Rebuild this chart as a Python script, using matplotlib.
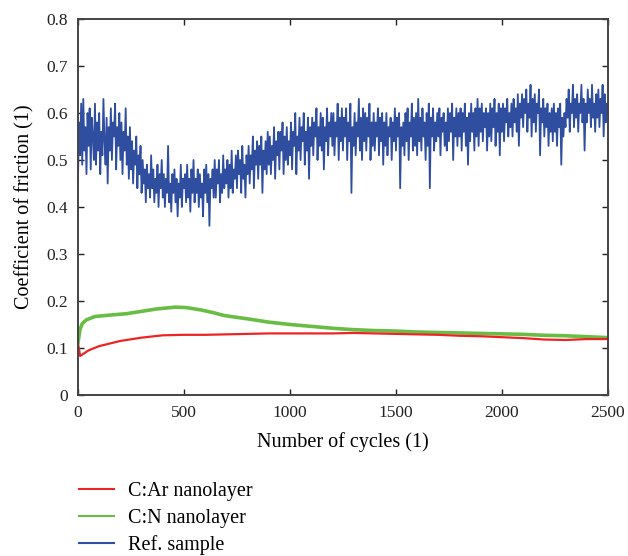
import matplotlib.pyplot as plt
import numpy as np

# =============================================================================
# DATA
# =============================================================================

# Ref. sample, one reading every 5 cycles (0 ... 2500), 10 readings per row
ref_step = 5
ref_sample = [
    .46, .58, .51, .62, .49, .63, .52, .57, .47, .60,   # 0
    .53, .61, .48, .59, .55, .50, .62, .49, .58, .52,
    .60, .47, .56, .51, .63, .54, .49, .59, .45, .57,   # 100
    .52, .61, .50, .58, .55, .62, .48, .57, .53, .60,
    .50, .58, .47, .56, .52, .61, .49, .55, .46, .57,   # 200
    .48, .54, .45, .52, .49, .55, .44, .51, .47, .53,
    .43, .50, .45, .48, .41, .49, .44, .47, .42, .51,   # 300
    .44, .48, .41, .46, .43, .49, .40, .47, .44, .50,
    .42, .47, .40, .46, .43, .53, .41, .45, .39, .47,   # 400
    .43, .48, .41, .46, .38, .45, .42, .49, .40, .46,
    .44, .47, .41, .49, .42, .46, .39, .48, .43, .50,   # 500
    .41, .46, .43, .48, .40, .47, .42, .45, .38, .48,
    .43, .49, .41, .47, .36, .46, .44, .48, .42, .50,   # 600
    .42, .48, .45, .50, .41, .47, .43, .51, .44, .48,
    .45, .50, .42, .49, .44, .52, .43, .48, .46, .51,   # 700
    .44, .52, .47, .50, .43, .53, .46, .49, .42, .51,
    .47, .53, .45, .51, .48, .55, .44, .52, .49, .54,   # 800
    .46, .53, .49, .55, .43, .52, .48, .54, .47, .56,
    .49, .55, .47, .53, .50, .57, .46, .54, .51, .56,   # 900
    .48, .56, .52, .58, .47, .55, .50, .57, .49, .54,
    .51, .58, .48, .56, .53, .60, .47, .55, .52, .59,   # 1000
    .50, .57, .54, .60, .49, .56, .52, .59, .46, .57,
    .53, .59, .51, .58, .55, .61, .50, .57, .53, .60,   # 1100
    .52, .59, .48, .57, .54, .61, .51, .58, .55, .60,
    .53, .60, .51, .58, .55, .62, .50, .59, .54, .61,   # 1200
    .52, .59, .55, .61, .50, .58, .54, .62, .43, .57,
    .53, .60, .51, .58, .55, .63, .52, .59, .50, .61,   # 1300
    .54, .60, .52, .59, .55, .62, .50, .58, .53, .60,
    .52, .58, .55, .61, .51, .59, .54, .60, .49, .58,   # 1400
    .53, .60, .51, .57, .55, .59, .50, .58, .54, .61,
    .52, .59, .55, .60, .44, .57, .53, .58, .51, .60,   # 1500
    .54, .61, .50, .58, .55, .62, .52, .59, .53, .60,
    .51, .63, .54, .59, .52, .61, .55, .58, .50, .60,   # 1600
    .53, .62, .44, .59, .55, .61, .52, .58, .54, .60,
    .55, .61, .51, .59, .56, .60, .53, .58, .52, .61,   # 1700
    .54, .60, .56, .62, .50, .59, .55, .61, .53, .60,
    .55, .61, .52, .60, .56, .62, .53, .59, .49, .60,   # 1800
    .54, .62, .56, .60, .52, .61, .55, .63, .53, .61,
    .56, .62, .54, .60, .57, .61, .52, .60, .55, .62,   # 1900
    .54, .61, .57, .63, .53, .60, .56, .62, .51, .61,
    .56, .62, .54, .61, .58, .63, .55, .60, .57, .62,   # 2000
    .55, .63, .58, .61, .56, .64, .53, .62, .59, .64,
    .57, .63, .60, .65, .56, .62, .59, .66, .55, .63,   # 2100
    .58, .64, .56, .62, .60, .65, .51, .61, .58, .63,
    .55, .61, .57, .62, .53, .60, .56, .61, .54, .62,   # 2200
    .56, .60, .53, .61, .57, .62, .49, .59, .55, .60,
    .57, .63, .59, .65, .56, .62, .60, .66, .57, .63,   # 2300
    .59, .64, .56, .62, .60, .66, .58, .63, .52, .62,
    .58, .65, .60, .63, .57, .66, .59, .62, .56, .64,   # 2400
    .59, .65, .57, .63, .60, .66, .55, .64, .58, .62,
    .60,                                                # 2500
]

# C:Ar and C:N nanolayers (smooth curves)
ar_cycles = [0, 10, 20, 50, 100, 200, 300, 400, 500, 600, 700, 800, 900, 1000,
             1100, 1200, 1300, 1400, 1500, 1600, 1700, 1800, 1900, 2000, 2100,
             2200, 2300, 2400, 2500]
ar_cof = [0.110, 0.083, 0.086, 0.095, 0.104, 0.115, 0.122, 0.127, 0.128, 0.128,
          0.129, 0.130, 0.131, 0.131, 0.131, 0.131, 0.132, 0.131, 0.130, 0.129,
          0.128, 0.126, 0.125, 0.123, 0.121, 0.118, 0.117, 0.119, 0.119]

cn_cycles = [0, 10, 20, 40, 80, 150, 230, 300, 370, 460, 510, 580, 640, 690,
             800, 900, 1000, 1100, 1200, 1300, 1400, 1500, 1600, 1700, 1800,
             1900, 2000, 2100, 2200, 2300, 2400, 2500]
cn_cof = [0.112, 0.140, 0.152, 0.160, 0.167, 0.170, 0.173, 0.178, 0.183, 0.187,
          0.186, 0.181, 0.175, 0.169, 0.162, 0.155, 0.150, 0.146, 0.142, 0.139,
          0.137, 0.136, 0.134, 0.133, 0.132, 0.131, 0.130, 0.129, 0.127, 0.126,
          0.124, 0.122]

labels = ['C:Ar nanolayer', 'C:N nanolayer', 'Ref. sample']
colors = ['#ee2424', '#69bd45', '#2f4ea0']

# =============================================================================
# PLOT
# =============================================================================

plt.rcParams['font.family'] = ['Liberation Serif', 'DejaVu Serif']

fig = plt.figure(figsize=(6.28, 5.56), dpi=100)
ax = fig.add_axes([0.1242, 0.2896, 0.8438, 0.6762])

ref_cycles = np.arange(len(ref_sample)) * ref_step

ax.plot(ref_cycles, ref_sample, color=colors[2], linewidth=1.3, label=labels[2])
ax.plot(cn_cycles, cn_cof, color=colors[1], linewidth=2.6, label=labels[1])
ax.plot(ar_cycles, ar_cof, color=colors[0], linewidth=1.6, label=labels[0])

ax.set_xlim(0, 2500)
ax.set_ylim(0, 0.8)
ax.set_xticks(np.arange(0, 2501, 500))
ax.set_yticks(np.arange(0, 0.81, 0.1))
ax.set_yticklabels([f'{v:g}' for v in np.round(np.arange(0, 0.81, 0.1), 1)])
ax.tick_params(direction='in', top=True, right=True, length=4, width=1,
               labelsize=12.5, colors='#222222', pad=7)
for s in ax.spines.values():
    s.set_linewidth(1.4)
    s.set_color('#444444')

ax.set_xlabel('Number of cycles (1)', fontsize=14.5, labelpad=8)
ax.set_ylabel('Coefficient of friction (1)', fontsize=14.5, labelpad=9)

handles, labs = ax.get_legend_handles_labels()
order = [labs.index(l) for l in labels]
fig.legend([handles[i] for i in order], labels, loc='upper left',
           bbox_to_anchor=(0.126, 0.133), frameon=False, fontsize=14.5,
           handlelength=1.75, handletextpad=0.7, labelspacing=0.38,
           borderaxespad=0, borderpad=0)
for line in fig.legends[0].get_lines():
    line.set_linewidth(1.5)

fig.savefig('out.png', dpi=100)
